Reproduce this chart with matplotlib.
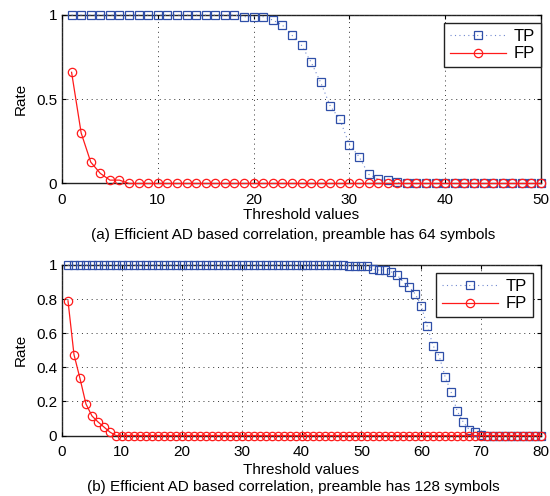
import matplotlib
matplotlib.use("Agg")
import matplotlib.pyplot as plt

plt.rcParams['font.family'] = ['Liberation Sans', 'DejaVu Sans']

# ---- data: panel (a), preamble 64 symbols ----
thr_a = list(range(1, 51))
tp_a = [1.0, 1.0, 1.0, 1.0, 1.0, 1.0, 1.0, 1.0, 1.0, 1.0,
        1.0, 1.0, 1.0, 1.0, 1.0, 1.0, 1.0, 1.0, 0.99, 0.99,
        0.99, 0.97, 0.94, 0.88, 0.82, 0.72, 0.60, 0.46, 0.38, 0.23,
        0.16, 0.055, 0.026, 0.02, 0.006, 0.0, 0.0, 0.0, 0.0, 0.0,
        0.0, 0.0, 0.0, 0.0, 0.0, 0.0, 0.0, 0.0, 0.0, 0.0]
fp_a = [0.66, 0.30, 0.127, 0.06, 0.02, 0.02, 0.0, 0.0, 0.0, 0.0,
        0.0, 0.0, 0.0, 0.0, 0.0, 0.0, 0.0, 0.0, 0.0, 0.0,
        0.0, 0.0, 0.0, 0.0, 0.0, 0.0, 0.0, 0.0, 0.0, 0.0,
        0.0, 0.0, 0.0, 0.0, 0.0, 0.0, 0.0, 0.0, 0.0, 0.0,
        0.0, 0.0, 0.0, 0.0, 0.0, 0.0, 0.0, 0.0, 0.0, 0.0]

# ---- data: panel (b), preamble 128 symbols ----
thr_b = list(range(1, 81))
tp_b = [1.0, 1.0, 1.0, 1.0, 1.0, 1.0, 1.0, 1.0, 1.0, 1.0,
        1.0, 1.0, 1.0, 1.0, 1.0, 1.0, 1.0, 1.0, 1.0, 1.0,
        1.0, 1.0, 1.0, 1.0, 1.0, 1.0, 1.0, 1.0, 1.0, 1.0,
        1.0, 1.0, 1.0, 1.0, 1.0, 1.0, 1.0, 1.0, 1.0, 1.0,
        1.0, 1.0, 1.0, 1.0, 1.0, 1.0, 0.998, 0.996, 0.995, 0.995,
        0.995, 0.975, 0.97, 0.97, 0.96, 0.94, 0.90, 0.87, 0.83, 0.76,
        0.64, 0.525, 0.465, 0.343, 0.253, 0.143, 0.08, 0.035, 0.02, 0.004,
        0.0, 0.0, 0.0, 0.0, 0.0, 0.0, 0.0, 0.0, 0.0, 0.0]
fp_b = [0.79, 0.475, 0.335, 0.185, 0.115, 0.08, 0.05, 0.02, 0.0, 0.0,
        0.0, 0.0, 0.0, 0.0, 0.0, 0.0, 0.0, 0.0, 0.0, 0.0,
        0.0, 0.0, 0.0, 0.0, 0.0, 0.0, 0.0, 0.0, 0.0, 0.0,
        0.0, 0.0, 0.0, 0.0, 0.0, 0.0, 0.0, 0.0, 0.0, 0.0,
        0.0, 0.0, 0.0, 0.0, 0.0, 0.0, 0.0, 0.0, 0.0, 0.0,
        0.0, 0.0, 0.0, 0.0, 0.0, 0.0, 0.0, 0.0, 0.0, 0.0,
        0.0, 0.0, 0.0, 0.0, 0.0, 0.0, 0.0, 0.0, 0.0, 0.0,
        0.0, 0.0, 0.0, 0.0, 0.0, 0.0, 0.0, 0.0, 0.0, 0.0]

xticks_a = [0, 10, 20, 30, 40, 50]
yticks_a = [0, 0.5, 1]
yticklabels_a = ['0', '0.5', '1']
xticks_b = [0, 10, 20, 30, 40, 50, 60, 70, 80]
yticks_b = [0, 0.2, 0.4, 0.6, 0.8, 1]
yticklabels_b = ['0', '0.2', '0.4', '0.6', '0.8', '1']

series_labels = ['TP', 'FP']
captions = ['(a) Efficient AD based correlation, preamble has 64 symbols',
            '(b) Efficient AD based correlation, preamble has 128 symbols']

W, H = 550, 496
fig = plt.figure(figsize=(W / 100, H / 100), dpi=100)

FS = 11
LFS = 12
TP_EDGE = '#2f4fa8'
TP_LINE = '#7088d0'
FP_COL = '#ff1a1a'


def make_axes(left, top, right, bottom):
    return fig.add_axes([left / W, 1 - bottom / H, (right - left) / W, (bottom - top) / H])


def style(ax, xmax, xticks, yticks, yticklabels):
    ax.set_xlim(0, xmax)
    ax.set_ylim(0, 1)
    ax.set_xticks(xticks)
    ax.set_yticks(yticks)
    ax.set_yticklabels(yticklabels)
    ax.tick_params(direction='in', length=3, width=0.8, top=True, right=True,
                   labelsize=FS, colors='black')
    ax.tick_params(axis='x', pad=6.5)
    ax.tick_params(axis='y', pad=3.5)
    for s in ax.spines.values():
        s.set_linewidth(1.0)
        s.set_color('#222222')
    ax.grid(True, color='#333333', linestyle=(0, (1, 4)), linewidth=0.7)
    ax.set_axisbelow(False)


def plot_panel(ax, x, tp, fp):
    ax.plot(x, tp, linestyle=(0, (1, 3)), color=TP_LINE, linewidth=0.8,
            marker='s', markersize=5.3, markerfacecolor='none',
            markeredgecolor=TP_EDGE, markeredgewidth=0.9, label=series_labels[0],
            clip_on=False, zorder=3)
    ax.plot(x, fp, linestyle='-', color=FP_COL, linewidth=0.9,
            marker='o', markersize=6, markerfacecolor='none',
            markeredgecolor=FP_COL, markeredgewidth=0.9, label=series_labels[1],
            clip_on=False, zorder=4)


def add_legend(ax, right_px, top_px):
    leg = ax.legend(loc='upper right', bbox_to_anchor=(right_px / W, 1 - top_px / H),
                    bbox_transform=fig.transFigure, fontsize=LFS, frameon=True,
                    fancybox=False, edgecolor='#222222', framealpha=1,
                    handlelength=3.4, handletextpad=0.45, borderpad=0.35,
                    labelspacing=0.15, borderaxespad=0)
    leg.get_frame().set_linewidth(1.0)
    return leg


# panel (a)
ax1 = make_axes(62, 15, 541, 183.5)
style(ax1, 50, xticks_a, yticks_a, yticklabels_a)
plot_panel(ax1, thr_a, tp_a, fp_a)
ax1.set_ylabel('Rate', fontsize=FS, labelpad=6)
add_legend(ax1, 541, 23)
fig.text(301.5 / W, 1 - 215 / H, 'Threshold values', ha='center', va='center', fontsize=FS)
fig.text(293 / W, 1 - 235 / H, captions[0], ha='center', va='center', fontsize=FS)

# panel (b)
ax2 = make_axes(62, 265, 541, 435.5)
style(ax2, 80, xticks_b, yticks_b, yticklabels_b)
plot_panel(ax2, thr_b, tp_b, fp_b)
ax2.set_ylabel('Rate', fontsize=FS, labelpad=6)
add_legend(ax2, 533, 273)
fig.text(301.5 / W, 1 - 470 / H, 'Threshold values', ha='center', va='center', fontsize=FS)
fig.text(293 / W, 1 - 487 / H, captions[1], ha='center', va='center', fontsize=FS)

fig.savefig('out.png', dpi=100)
